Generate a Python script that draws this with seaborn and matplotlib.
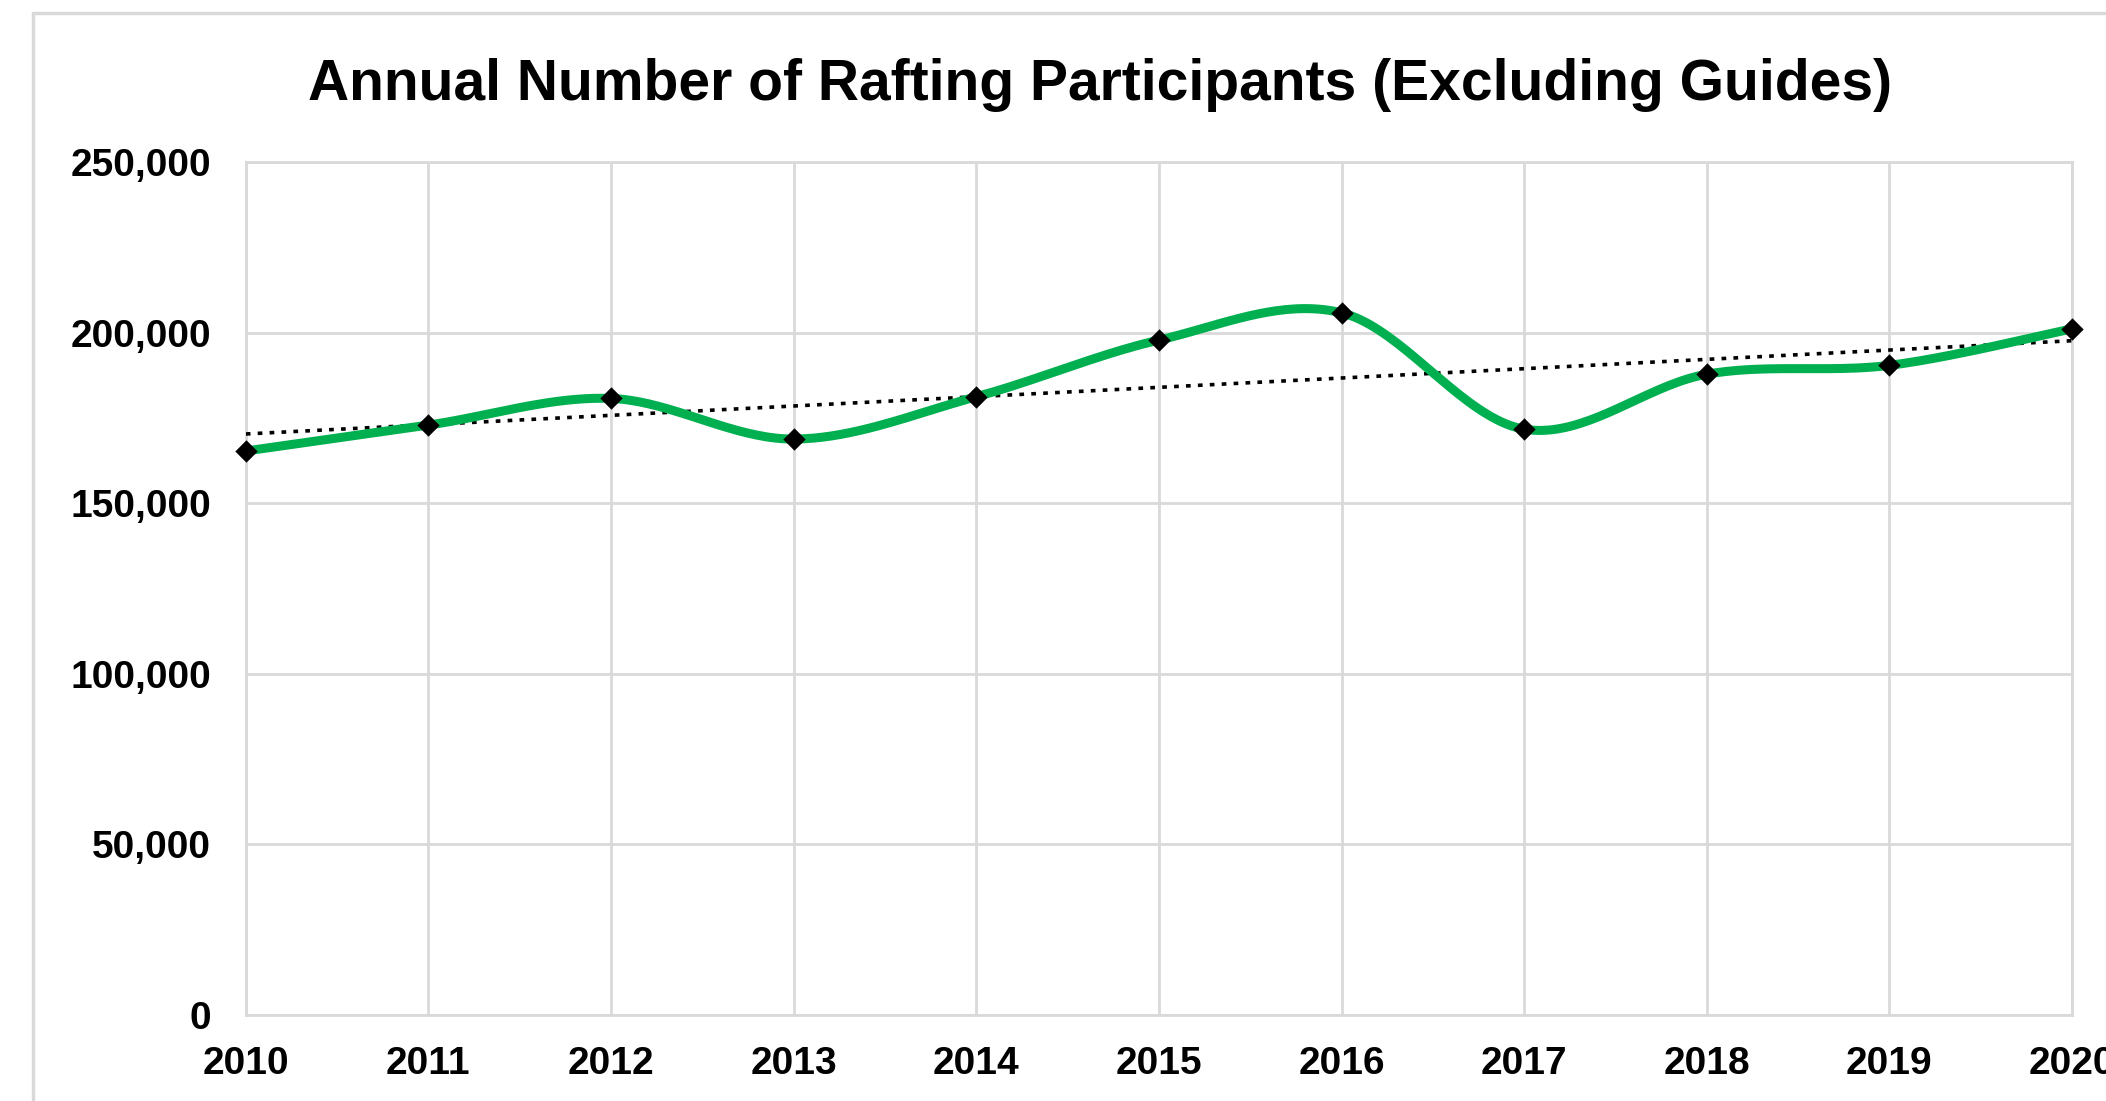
import numpy as np
import pandas as pd
import matplotlib
matplotlib.use("Agg")
import matplotlib.pyplot as plt
import seaborn as sns
from matplotlib.patches import Rectangle
from matplotlib.ticker import FuncFormatter

years = [2010, 2011, 2012, 2013, 2014, 2015, 2016, 2017, 2018, 2019, 2020]
participants = [165300, 172900, 180700, 168800, 181200, 197800, 205800, 171700, 187800, 190400, 201100]
y_ticks = [0, 50000, 100000, 150000, 200000, 250000]
title = "Annual Number of Rafting Participants (Excluding Guides)"

sns.set_theme(style="white")
plt.rcParams['font.family'] = ['Liberation Sans', 'DejaVu Sans']

df = pd.DataFrame({"year": years, "participants": participants})


def smooth_path(x, y, steps=40):
    # Excel-style smoothed line: cubic Bezier with Catmull-Rom control points
    x = np.asarray(x, float)
    y = np.asarray(y, float)
    px = np.concatenate([[x[0]], x, [x[-1]]])
    py = np.concatenate([[y[0]], y, [y[-1]]])
    t = np.linspace(0, 1, steps)
    xs, ys = [], []
    for i in range(1, len(px) - 2):
        p0 = np.array([px[i], py[i]])
        p3 = np.array([px[i + 1], py[i + 1]])
        c1 = p0 + (np.array([px[i + 1], py[i + 1]]) - np.array([px[i - 1], py[i - 1]])) / 6
        c2 = p3 - (np.array([px[i + 2], py[i + 2]]) - np.array([px[i], py[i]])) / 6
        b = ((1 - t) ** 3)[:, None] * p0 + (3 * (1 - t) ** 2 * t)[:, None] * c1 \
            + (3 * (1 - t) * t ** 2)[:, None] * c2 + (t ** 3)[:, None] * p3
        xs.append(b[:, 0])
        ys.append(b[:, 1])
    return np.concatenate(xs), np.concatenate(ys)


W, H = 2106, 1101
fig = plt.figure(figsize=(W / 100, H / 100), dpi=100)
ax = fig.add_axes([245.8 / W, 86 / H, (2072 - 245.8) / W, (1015 - 162) / H])

grid_c = "#d9d9d9"

# trendline (linear fit)
sns.regplot(data=df, x="year", y="participants", ax=ax, scatter=False, ci=None,
            truncate=True,
            line_kws=dict(color="black", lw=2.6, linestyle=(0, (1.3, 2.0)), zorder=3))

sx, sy = smooth_path(df["year"], df["participants"])
sm = pd.DataFrame({"year": sx, "participants": sy})
sns.lineplot(data=sm, x="year", y="participants", ax=ax, color="#00b050", lw=6.5,
             sort=False, estimator=None, zorder=4)
sns.scatterplot(data=df, x="year", y="participants", ax=ax, marker="D", s=130,
                color="black", edgecolor="black", linewidth=0, zorder=5, clip_on=False)

ax.set_xlim(2010, 2020)
ax.set_ylim(0, 250000)
ax.set_xticks(years)
ax.set_yticks(y_ticks)
ax.yaxis.set_major_formatter(FuncFormatter(lambda v, p: f"{int(v):,}"))
ax.set_xlabel("")
ax.set_ylabel("")
ax.grid(True, color=grid_c, lw=2)
for s in ax.spines.values():
    s.set_color(grid_c)
    s.set_linewidth(2)
ax.tick_params(axis="both", length=0, labelsize=28)
ax.tick_params(axis="y", pad=25)
ax.tick_params(axis="x", pad=22)
for lab in ax.get_xticklabels() + ax.get_yticklabels():
    lab.set_fontweight("bold")
    lab.set_color("black")

fig.text(1100 / W, 1 - 85 / H, title, ha="center", va="center", fontsize=41,
         fontweight="bold", color="black")

# chart area border
fig.patches.append(Rectangle((33 / W, -0.05), 1.2, 1 - 13 / H + 0.05,
                             transform=fig.transFigure, fill=False,
                             edgecolor=grid_c, lw=2.5))

fig.savefig("out.png", dpi=100)
